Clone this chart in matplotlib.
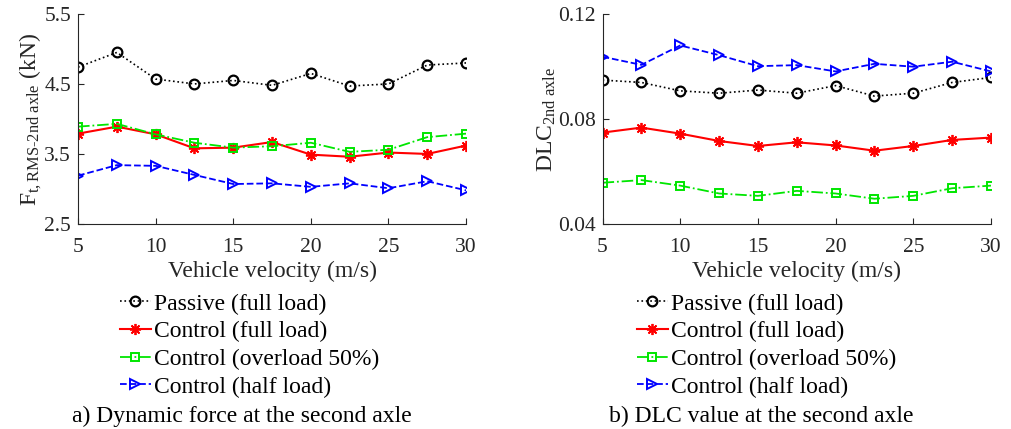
import numpy as np
import matplotlib
matplotlib.use('Agg')
import matplotlib.pyplot as plt

plt.rcParams['font.family'] = ['Liberation Serif', 'DejaVu Serif']
plt.rcParams['mathtext.fontset'] = 'custom'
plt.rcParams['mathtext.rm'] = 'Liberation Serif'
plt.rcParams['mathtext.it'] = 'Liberation Serif:italic'

# vehicle velocity (m/s)
speed = [5, 7.5, 10, 12.5, 15, 17.5, 20, 22.5, 25, 27.5, 30]

# a) dynamic force at the second axle (kN)
force_passive = [4.74, 4.95, 4.57, 4.50, 4.55, 4.48, 4.65, 4.47, 4.50, 4.77, 4.80]
force_full = [3.79, 3.89, 3.78, 3.58, 3.59, 3.67, 3.49, 3.46, 3.52, 3.50, 3.62]
force_over = [3.89, 3.93, 3.78, 3.66, 3.59, 3.61, 3.66, 3.53, 3.56, 3.74, 3.79]
force_half = [3.19, 3.34, 3.33, 3.20, 3.07, 3.08, 3.03, 3.08, 3.01, 3.11, 2.98]

# b) DLC at the second axle
dlc_passive = [0.0948, 0.0939, 0.0907, 0.0898, 0.0910, 0.0898, 0.0927, 0.0887, 0.0898, 0.0939, 0.0958]
dlc_full = [0.0748, 0.0767, 0.0744, 0.0716, 0.0697, 0.0711, 0.0699, 0.0679, 0.0697, 0.0720, 0.0729]
dlc_over = [0.0557, 0.0567, 0.0546, 0.0516, 0.0507, 0.0526, 0.0516, 0.0496, 0.0507, 0.0536, 0.0546]
dlc_half = [0.1037, 0.1006, 0.1080, 0.1043, 0.1001, 0.1005, 0.0981, 0.1010, 0.0999, 0.1018, 0.0981]

labels = ['Passive (full load)', 'Control (full load)',
          'Control (overload 50%)', 'Control (half load)']
styles = [dict(color='k', ls=':', marker='o', mfc='none', ms=7, mew=1.6, lw=1.2),
          dict(color='#ff0000', ls='-', marker=(8, 2, 0), ms=8, mew=1.3, lw=1.5),
          dict(color='#00e600', ls='-.', marker='s', mfc='none', ms=6, mew=1.4, lw=1.3),
          dict(color='#0000ff', ls='--', marker='>', mfc='none', ms=7, mew=1.4, lw=1.3)]

tc = '#262626'
fs = 17
fig = plt.figure(figsize=(10.11, 4.29), dpi=100)
ax1 = fig.add_axes([0.0772, 0.478, 0.3838, 0.4895])
ax2 = fig.add_axes([0.596, 0.478, 0.3842, 0.4895])


def setup(ax, series, yticks, ylabel):
    for ys, st, lab in zip(series, styles, labels):
        ax.plot(speed, ys, label=lab, **st)
    ax.set_xlim(5, 30)
    ax.set_xticks([5, 10, 15, 20, 25, 30])
    ax.set_ylim(yticks[0], yticks[-1])
    ax.set_yticks(yticks)
    for s in ['top', 'right']:
        ax.spines[s].set_visible(False)
    for s in ['left', 'bottom']:
        ax.spines[s].set_color(tc)
        ax.spines[s].set_linewidth(0.8)
    ax.tick_params(direction='in', labelsize=15.5, colors=tc, length=4, width=0.8, pad=5)
    ax.tick_params(axis='x', pad=10)
    ax.set_xlabel('Vehicle velocity (m/s)', fontsize=fs, color=tc, labelpad=3)
    ax.set_ylabel(ylabel, fontsize=fs, color=tc, labelpad=0)


setup(ax1, [force_passive, force_full, force_over, force_half],
      [2.5, 3.5, 4.5, 5.5], 'F$_{\\rm t,RMS\u20102nd\\ axle}$ (kN)')
ax1.set_yticklabels(['2.5', '3.5', '4.5', '5.5'])
setup(ax2, [dlc_passive, dlc_full, dlc_over, dlc_half],
      [0.04, 0.08, 0.12], 'DLC$_{\\rm 2nd\\ axle}$')
ax2.set_yticklabels(['0.04', '0.08', '0.12'])

for ax, x0 in [(ax1, 0.1187), (ax2, 0.630)]:
    ax.legend(loc='upper left', bbox_to_anchor=(x0, 0.317), bbox_transform=fig.transFigure,
              frameon=False, fontsize=fs, handlelength=1.3, handletextpad=0.15,
              labelspacing=0.26, borderpad=0, borderaxespad=0)

fig.text(242 / 1011, 1 - 416 / 429, 'a) Dynamic force at the second axle',
         ha='center', va='center', fontsize=fs)
fig.text(761 / 1011, 1 - 416 / 429, 'b) DLC value at the second axle',
         ha='center', va='center', fontsize=fs)

fig.savefig('out.png', dpi=100)
